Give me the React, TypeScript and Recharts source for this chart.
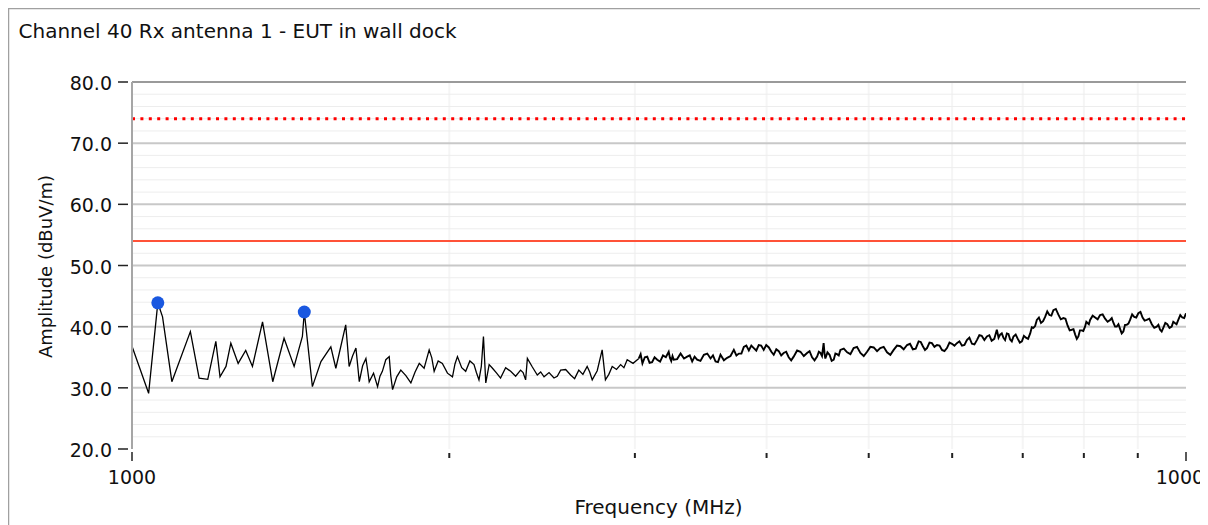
import { ComposedChart, Line, Scatter, XAxis, YAxis, ReferenceLine } from 'recharts'

const title = 'Channel 40 Rx antenna 1 - EUT in wall dock'
const xTitle = 'Frequency (MHz)'
const yTitle = 'Amplitude (dBuV/m)'

// trace (MHz / dBuV/m)
const freqMHz = [
  1000, 1037, 1058, 1069, 1091, 1136, 1158, 1180, 1201, 1212, 1228, 1241, 1261, 1282, 1301, 1330,
  1360, 1394, 1425, 1451, 1457, 1483, 1511, 1544, 1561, 1595, 1601, 1607, 1619, 1631, 1637, 1643,
  1655, 1667, 1673, 1679, 1695, 1710, 1719, 1728, 1741, 1754, 1760, 1767, 1783, 1799, 1819, 1839,
  1856, 1873, 1893, 1914, 1925, 1935, 1952, 1970, 1992, 2014, 2025, 2036, 2055, 2073, 2092, 2111,
  2122, 2134, 2145, 2155, 2166, 2182, 2198, 2218, 2237, 2262, 2287, 2312, 2337, 2350, 2363, 2372,
  2398, 2424, 2442, 2460, 2487, 2514, 2532, 2551, 2579, 2607, 2630, 2654, 2678, 2703, 2718, 2733,
  2763, 2793, 2813, 2834, 2855, 2882, 2908, 2929, 2950, 2988,
  3026, 3038, 3050, 3066, 3082, 3098, 3115, 3132, 3150, 3170, 3190, 3210, 3230, 3239, 3248, 3257,
  3266, 3290, 3315, 3340, 3363, 3382, 3400, 3418, 3437, 3462, 3488, 3514, 3539, 3558, 3578, 3597,
  3617, 3644, 3670, 3697, 3724, 3745, 3765, 3786, 3806, 3827, 3848, 3869, 3890, 3911, 3932, 3953,
  3975, 3997, 4020, 4042, 4063, 4086, 4108, 4130, 4152, 4175, 4198, 4221, 4244, 4276, 4307, 4339,
  4370, 4394, 4418, 4442, 4467, 4484, 4500, 4515, 4531, 4540, 4548, 4569, 4590, 4611, 4632, 4649,
  4666, 4683, 4700, 4735, 4770, 4804, 4838, 4874, 4910, 4946, 4982, 5018, 5055, 5092, 5128, 5166,
  5204, 5242, 5280, 5319, 5358, 5397, 5437, 5472, 5506, 5541, 5576, 5602, 5628, 5654, 5679, 5710,
  5740, 5772, 5804, 5836, 5868, 5900, 5932, 5965, 5997, 6030, 6062, 6096, 6130, 6163, 6196, 6230,
  6265, 6299, 6333, 6367, 6400, 6437, 6473, 6507, 6540, 6578, 6615, 6640, 6663, 6687, 6710, 6735,
  6761, 6785, 6810, 6835, 6860, 6893, 6925, 6956, 6987, 7018, 7050, 7082, 7115, 7140, 7165, 7192,
  7219, 7252, 7285, 7318, 7351, 7385, 7420, 7452, 7485, 7525, 7565, 7607, 7650, 7685, 7720, 7756,
  7792, 7821, 7850, 7878, 7905, 7932, 7960, 7990, 8021, 8043, 8065, 8088, 8110, 8155, 8200, 8245,
  8289, 8335, 8380, 8426, 8472, 8503, 8535, 8565, 8596, 8628, 8660, 8690, 8721, 8753, 8785, 8818,
  8850, 8890, 8930, 8970, 9011, 9053, 9095, 9136, 9178, 9229, 9280, 9330, 9380, 9415, 9450, 9483,
  9516, 9558, 9600, 9646, 9692, 9726, 9760, 9796, 9833, 9876, 9920, 9960, 10000,
]
const amplitude = [
  36.8, 29.1, 43.9, 41.6, 31.0, 39.2, 31.6, 31.4, 37.6, 31.8, 33.5, 37.3, 34.0, 36.1, 33.5, 40.8,
  31.0, 38.1, 33.5, 38.4, 42.4, 30.2, 34.3, 36.7, 33.2, 40.3, 37.0, 33.5, 35.2, 36.5, 33.8, 31.0,
  33.6, 34.8, 33.0, 31.0, 32.4, 30.2, 31.9, 32.7, 34.6, 35.1, 32.0, 29.7, 31.8, 32.9, 32.0, 30.8,
  32.6, 34.0, 33.2, 36.2, 34.9, 32.7, 34.4, 34.0, 32.4, 31.8, 33.9, 35.1, 33.3, 32.7, 34.4, 33.8,
  32.5, 31.3, 33.5, 38.4, 30.8, 33.8, 33.2, 32.4, 31.6, 33.3, 32.7, 31.9, 32.9, 32.5, 31.3, 34.8,
  33.4, 32.1, 32.6, 31.8, 32.5, 31.6, 31.9, 32.9, 33.0, 32.1, 31.5, 32.9, 32.2, 33.5, 32.6, 31.3,
  32.8, 36.2, 31.3, 32.2, 33.5, 33.0, 33.8, 33.3, 34.6, 34.0,
  34.8, 35.5, 34.0, 35.0, 35.1, 34.1, 34.2, 35.0, 34.6, 34.3, 35.3, 35.0, 35.9, 34.9, 34.4, 35.2,
  34.6, 34.7, 35.6, 34.8, 35.1, 35.3, 34.3, 35.1, 34.6, 34.4, 35.4, 35.6, 34.8, 35.3, 34.3, 34.2,
  35.4, 34.5, 34.9, 35.2, 36.2, 35.3, 35.6, 35.6, 36.7, 36.9, 36.1, 36.9, 36.5, 36.1, 37.0, 36.9,
  36.2, 37.0, 36.6, 35.9, 35.4, 36.3, 36.0, 35.3, 35.7, 35.9, 35.0, 34.5, 35.1, 36.1, 35.9, 35.2,
  35.7, 36.0, 35.0, 34.5, 35.1, 35.9, 35.7, 35.2, 37.3, 35.6, 34.8, 35.8, 35.4, 34.4, 34.6, 35.6,
  35.5, 35.3, 36.2, 36.4, 35.8, 35.5, 36.5, 36.7, 35.7, 35.2, 35.9, 36.7, 36.6, 36.0, 36.5, 36.7,
  35.8, 35.4, 36.2, 36.9, 36.8, 36.3, 37.0, 37.2, 36.3, 36.4, 37.6, 37.5, 36.8, 36.2, 36.5, 37.4,
  37.3, 36.7, 37.0, 36.9, 36.2, 36.0, 36.5, 37.4, 37.2, 36.9, 37.3, 37.6, 36.9, 37.0, 37.8, 38.2,
  37.2, 37.1, 37.8, 38.6, 38.5, 37.8, 38.4, 38.6, 37.7, 38.0, 39.5, 38.2, 38.7, 38.9, 38.2, 37.8,
  38.9, 38.8, 37.9, 37.6, 38.4, 38.7, 38.0, 37.4, 37.6, 38.5, 38.2, 38.0, 38.9, 39.9, 39.8, 40.1,
  41.1, 41.5, 40.6, 40.9, 41.6, 42.5, 41.9, 41.8, 42.7, 42.9, 42.0, 41.2, 41.4, 41.3, 40.2, 39.4,
  39.5, 39.6, 38.7, 38.0, 38.4, 39.4, 39.4, 39.3, 40.0, 40.8, 40.6, 40.4, 41.1, 41.8, 41.5, 41.2,
  41.9, 42.0, 41.3, 40.8, 41.1, 41.4, 40.6, 40.0, 40.0, 40.4, 39.6, 38.9, 39.2, 40.3, 40.3, 40.5,
  41.1, 42.0, 41.6, 41.5, 42.2, 42.4, 41.5, 41.0, 41.1, 41.3, 40.4, 39.8, 40.0, 40.3, 39.5, 39.2,
  39.8, 40.6, 40.4, 39.8, 40.0, 40.8, 40.6, 40.4, 41.1, 41.9, 41.5, 41.4, 42.2,
]
// above this the sweep is dense noise and reads as a heavier trace
const denseFrom = 3026

// marked peaks
const peakFreq = [1058, 1457]
const peakAmp = [43.9, 42.4]

// limit lines
const peakLimit = 74
const avgLimit = 54

const yTicks = [20, 30, 40, 50, 60, 70, 80]
const yMinor = [22, 24, 26, 28, 32, 34, 36, 38, 42, 44, 46, 48, 52, 54, 56, 58, 62, 64, 66, 68, 72, 74, 76, 78]
const xTicks = [1000, 2000, 3000, 4000, 5000, 6000, 7000, 8000, 9000, 10000]
const xLabelled = [1000, 10000]

const font = '"DejaVu Sans", Verdana, sans-serif'

const trace = freqMHz.map((f, i) => ({ freq: f, amp: amplitude[i] }))
const traceSparse = trace.filter(d => d.freq <= denseFrom)
const traceDense = trace.filter(d => d.freq >= denseFrom)
const peaks = peakFreq.map((f, i) => ({ freq: f, amp: peakAmp[i] }))

function YTick({ x, y, payload }: any) {
  return (
    <g>
      <line x1={x - 14} x2={x - 4} y1={y} y2={y} stroke="#222" strokeWidth={1.5} />
      <text x={x - 20} y={y + 8} textAnchor="end" fontSize={19} fontFamily={font} fill="#111">
        {Number(payload.value).toFixed(1)}
      </text>
    </g>
  )
}

function XTick({ x, y, payload }: any) {
  const big = xLabelled.includes(payload.value)
  return (
    <g>
      <line x1={x} x2={x} y1={y + (big ? 3 : 4)} y2={y + (big ? 12 : 9)} stroke="#222" strokeWidth={big ? 1.5 : 2} />
      {big && (
        <text x={x} y={y + 35} textAnchor="middle" fontSize={19} fontFamily={font} fill="#111">
          {payload.value}
        </text>
      )}
    </g>
  )
}

export default function App() {
  return (
    <div style={{ position: 'relative', width: 1200, height: 517, overflow: 'hidden', background: '#fff' }}>
      <ComposedChart
        width={1200}
        height={517}
        margin={{ top: 74, right: 22, left: 64, bottom: 36 }}
        style={{ position: 'absolute', left: 0, top: 0 }}
      >
        <XAxis
          dataKey="freq"
          type="number"
          scale="log"
          domain={[1000, 10000]}
          ticks={xTicks}
          tick={<XTick />}
          tickSize={0}
          tickMargin={0}
          axisLine={false}
          tickLine={false}
          height={40}
          allowDataOverflow
        />
        <YAxis
          type="number"
          domain={[20, 80]}
          ticks={yTicks}
          tick={<YTick />}
          tickSize={0}
          tickMargin={0}
          axisLine={{ stroke: '#a6a6a6', strokeWidth: 2 }}
          tickLine={false}
          width={60}
          allowDataOverflow
        />
        {xTicks.slice(1, -1).map(v => (
          <ReferenceLine key={'vx' + v} x={v} stroke="#f5f5f5" strokeWidth={2} />
        ))}
        {yMinor.map(v => (
          <ReferenceLine key={'my' + v} y={v} stroke="#ededed" strokeWidth={1} />
        ))}
        {yTicks.slice(1).map(v => (
          <ReferenceLine key={'gy' + v} y={v} stroke={v === 80 ? '#9a9a9a' : '#c8c8c8'} strokeWidth={2} />
        ))}
        <ReferenceLine y={peakLimit} stroke="#ff0000" strokeWidth={3} strokeDasharray="3 5.4" />
        <ReferenceLine y={avgLimit} stroke="#ff5238" strokeWidth={2} />
        <Line
          data={traceSparse}
          dataKey="amp"
          type="linear"
          stroke="#000"
          strokeWidth={1.3}
          dot={false}
          isAnimationActive={false}
        />
        <Line
          data={traceDense}
          dataKey="amp"
          type="linear"
          stroke="#000"
          strokeWidth={1.9}
          dot={false}
          isAnimationActive={false}
        />
        <Scatter
          data={peaks}
          dataKey="amp"
          fill="#1a58e0"
          isAnimationActive={false}
          shape={(p: any) => <circle cx={p.cx} cy={p.cy} r={6.5} fill="#1a58e0" />}
        />
      </ComposedChart>
      <svg width={1200} height={517} style={{ position: 'absolute', left: 0, top: 0, pointerEvents: 'none' }}>
        <line x1={0} x2={1200} y1={0.5} y2={0.5} stroke="#a0a0a0" strokeWidth={1.5} />
        <line x1={0.5} x2={0.5} y1={0} y2={517} stroke="#a0a0a0" strokeWidth={1.5} />
        <text x={10.5} y={30} fontSize={20} fontFamily={font} fill="#111">
          {title}
        </text>
        <text
          x={43.5}
          y={258.5}
          transform="rotate(-90 43.5 258.5)"
          textAnchor="middle"
          fontSize={18}
          fontFamily={font}
          fill="#111"
        >
          {yTitle}
        </text>
        <text x={650.5} y={506} textAnchor="middle" fontSize={20} fontFamily={font} fill="#111">
          {xTitle}
        </text>
      </svg>
    </div>
  )
}
